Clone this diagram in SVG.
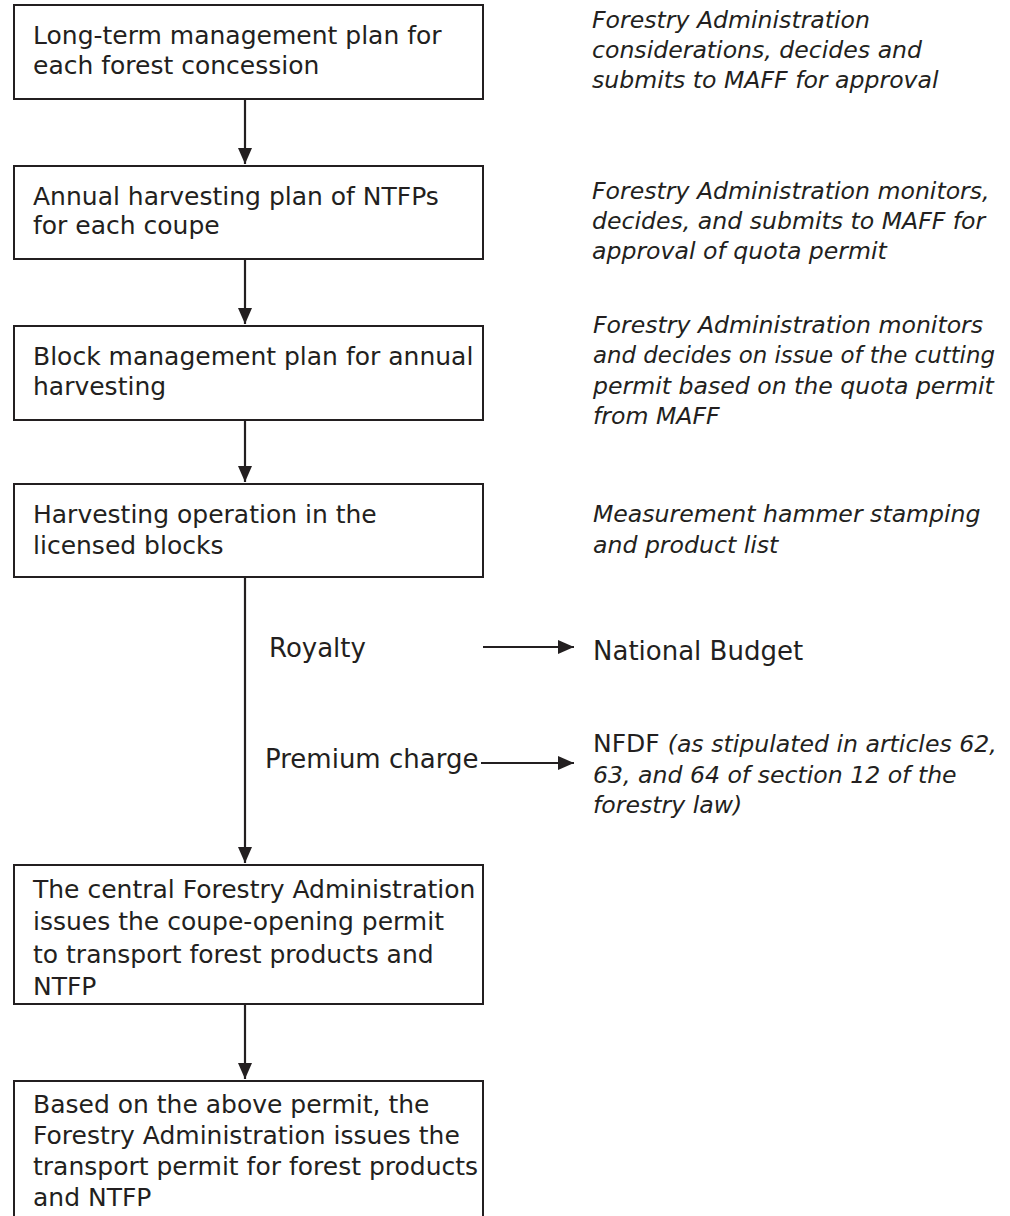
<svg xmlns="http://www.w3.org/2000/svg" width="1010" height="1216" viewBox="0 0 1010 1216">
<defs>
<style>
.box{fill:#fff;stroke:#231f20;stroke-width:2}
.t{font-family:"DejaVu Sans",Verdana,sans-serif;font-size:25px;fill:#231f20}
.l{font-family:"DejaVu Sans",Verdana,sans-serif;font-size:26px;fill:#231f20}
.n{font-family:"DejaVu Sans",Verdana,sans-serif;font-size:23.6px;font-style:italic;fill:#231f20}
.c{stroke:#231f20;stroke-width:2.2;fill:none}
</style>
<marker id="ah" markerWidth="16" markerHeight="14" refX="16" refY="7" orient="auto" markerUnits="userSpaceOnUse">
<path d="M0,0 L16,7 L0,14 Z" fill="#231f20"/>
</marker>
</defs>
<rect width="1010" height="1216" fill="#fff"/>
<g id="connectors">
<line class="c" x1="245" y1="99" x2="245" y2="164" marker-end="url(#ah)"/>
<line class="c" x1="245" y1="259" x2="245" y2="324" marker-end="url(#ah)"/>
<line class="c" x1="245" y1="420" x2="245" y2="482" marker-end="url(#ah)"/>
<line class="c" x1="245" y1="577" x2="245" y2="863" marker-end="url(#ah)"/>
<line class="c" x1="245" y1="1004" x2="245" y2="1079" marker-end="url(#ah)"/>
<line class="c" x1="483" y1="647" x2="574" y2="647" marker-end="url(#ah)"/>
<line class="c" x1="481" y1="763" x2="574" y2="763" marker-end="url(#ah)"/>
</g>
<g id="node1">
<rect class="box" x="14" y="5" width="469" height="94"/>
<text class="t" x="33" y="44">Long-term management plan for</text>
<text class="t" x="33" y="74">each forest concession</text>
</g>
<g id="node2">
<rect class="box" x="14" y="166" width="469" height="93"/>
<text class="t" x="33" y="205">Annual harvesting plan of NTFPs</text>
<text class="t" x="33" y="234">for each coupe</text>
</g>
<g id="node3">
<rect class="box" x="14" y="326" width="469" height="94"/>
<text class="t" x="33" y="365">Block management plan for annual</text>
<text class="t" x="33" y="395">harvesting</text>
</g>
<g id="node4">
<rect class="box" x="14" y="484" width="469" height="93"/>
<text class="t" x="33" y="523">Harvesting operation in the</text>
<text class="t" x="33" y="554">licensed blocks</text>
</g>
<g id="node5">
<rect class="box" x="14" y="865" width="469" height="139"/>
<text class="t" x="33" y="898">The central Forestry Administration</text>
<text class="t" x="33" y="930">issues the coupe-opening permit</text>
<text class="t" x="33" y="963">to transport forest products and</text>
<text class="t" x="33" y="995">NTFP</text>
</g>
<g id="node6">
<rect class="box" x="14" y="1081" width="469" height="145"/>
<text class="t" x="33" y="1113">Based on the above permit, the</text>
<text class="t" x="33" y="1144">Forestry Administration issues the</text>
<text class="t" x="33" y="1175">transport permit for forest products</text>
<text class="t" x="33" y="1206">and NTFP</text>
</g>
<g id="note1">
<text class="n" x="592" y="28">Forestry Administration</text>
<text class="n" x="592" y="58">considerations, decides and</text>
<text class="n" x="592" y="88">submits to MAFF for approval</text>
</g>
<g id="note2">
<text class="n" x="592" y="199">Forestry Administration monitors,</text>
<text class="n" x="592" y="229">decides, and submits to MAFF for</text>
<text class="n" x="592" y="259">approval of quota permit</text>
</g>
<g id="note3">
<text class="n" x="593" y="333">Forestry Administration monitors</text>
<text class="n" x="593" y="363" textLength="402" lengthAdjust="spacingAndGlyphs">and decides on issue of the cutting</text>
<text class="n" x="593" y="394">permit based on the quota permit</text>
<text class="n" x="593" y="424">from MAFF</text>
</g>
<g id="note4">
<text class="n" x="593" y="522">Measurement hammer stamping</text>
<text class="n" x="593" y="553">and product list</text>
</g>
<g id="label-royalty">
<text class="l" x="269" y="657">Royalty</text>
</g>
<g id="label-premium">
<text class="l" x="265" y="768">Premium charge</text>
</g>
<g id="national-budget">
<text class="l" x="593" y="660">National Budget</text>
</g>
<g id="nfdf">
<text class="t" x="593" y="752">NFDF <tspan font-size="23.6px" font-style="italic">(as stipulated in articles 62,</tspan></text>
<text class="n" x="593" y="783">63, and 64 of section 12 of the</text>
<text class="n" x="593" y="813">forestry law)</text>
</g>
</svg>
